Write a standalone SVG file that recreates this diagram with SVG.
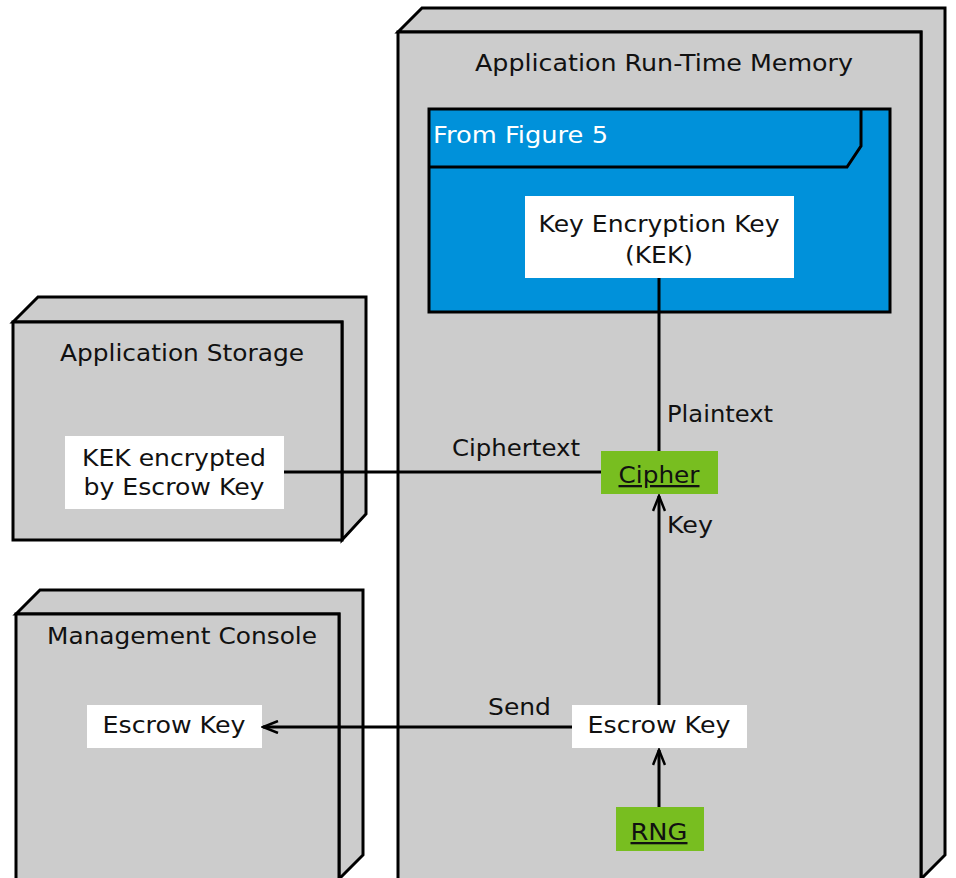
<svg xmlns="http://www.w3.org/2000/svg" width="956" height="878" viewBox="0 0 956 878">
<defs>
<style>
.box{fill:#cccccc;stroke:#000;stroke-width:3;stroke-linejoin:miter}
.wb{fill:#fff}
.gb{fill:#78be20}
.t{font-family:"DejaVu Sans","Liberation Sans",sans-serif;font-size:23px;fill:#111}
.m{text-anchor:middle}
.u{text-decoration:underline}
.ln{fill:none;stroke:#000;stroke-width:3}
</style>
<marker id="arr" viewBox="0 0 18 14" markerWidth="18" markerHeight="14" refX="16" refY="7" orient="auto" markerUnits="userSpaceOnUse">
<path d="M1,1 L16,7 L1,13" fill="none" stroke="#000" stroke-width="2.5"/>
</marker>
</defs>
<rect width="956" height="878" fill="#fff"/>

<g id="runtime-memory">
<path class="box" d="M398,32 L422,8 L945,8 L945,855 L921,879 L921,32 Z"/>
<rect class="box" x="398" y="32" width="523" height="850"/>
<text class="t m" x="664" y="71" textLength="378" lengthAdjust="spacingAndGlyphs">Application Run-Time Memory</text>
</g>

<g id="from-figure-5">
<rect x="429" y="109" width="461" height="203" fill="#0091da" stroke="#000" stroke-width="3"/>
<path class="ln" d="M429,167 L847,167 L861,146 L861,109"/>
<text class="t" x="433" y="143" style="fill:#fff" textLength="175" lengthAdjust="spacingAndGlyphs">From Figure 5</text>
</g>

<g id="kek">
<rect class="wb" x="525" y="196" width="269" height="82"/>
<text class="t m" x="659" y="232" textLength="241" lengthAdjust="spacingAndGlyphs">Key Encryption Key</text>
<text class="t m" x="659" y="263" textLength="68" lengthAdjust="spacingAndGlyphs">(KEK)</text>
</g>

<g id="app-storage">
<path class="box" d="M13,322 L38,297 L366,297 L366,514 L342,540 L342,322 Z"/>
<rect class="box" x="13" y="322" width="329" height="218"/>
<text class="t m" x="182" y="361" textLength="244" lengthAdjust="spacingAndGlyphs">Application Storage</text>
</g>

<g id="kek-encrypted">
<rect class="wb" x="65" y="436" width="219" height="73"/>
<text class="t m" x="174" y="466" textLength="184" lengthAdjust="spacingAndGlyphs">KEK encrypted</text>
<text class="t m" x="174" y="495" textLength="181" lengthAdjust="spacingAndGlyphs">by Escrow Key</text>
</g>

<g id="mgmt-console">
<path class="box" d="M16,614 L40,590 L363,590 L363,855 L339,879 L339,614 Z"/>
<rect class="box" x="16" y="614" width="323" height="268"/>
<text class="t m" x="182" y="644" textLength="270" lengthAdjust="spacingAndGlyphs">Management Console</text>
</g>

<g id="escrow-key-console">
<rect class="wb" x="87" y="705" width="175" height="43"/>
<text class="t m" x="174" y="733" textLength="143" lengthAdjust="spacingAndGlyphs">Escrow Key</text>
</g>

<g id="connectors">
<line class="ln" x1="659" y1="278" x2="659" y2="451"/>
<line class="ln" x1="284" y1="472" x2="601" y2="472"/>
<line class="ln" x1="659" y1="705" x2="659" y2="496" marker-end="url(#arr)"/>
<line class="ln" x1="572" y1="727" x2="263" y2="727" marker-end="url(#arr)"/>
<line class="ln" x1="659" y1="807" x2="659" y2="750" marker-end="url(#arr)"/>
<text class="t" x="667" y="422" textLength="106" lengthAdjust="spacingAndGlyphs">Plaintext</text>
<text class="t" x="452" y="456" textLength="128" lengthAdjust="spacingAndGlyphs">Ciphertext</text>
<text class="t" x="667" y="533" textLength="46" lengthAdjust="spacingAndGlyphs">Key</text>
<text class="t" x="488" y="715" textLength="63" lengthAdjust="spacingAndGlyphs">Send</text>
</g>

<g id="cipher">
<rect class="gb" x="601" y="451" width="117" height="43"/>
<text class="t m u" x="659" y="483" textLength="81" lengthAdjust="spacingAndGlyphs">Cipher</text>
</g>

<g id="escrow-key">
<rect class="wb" x="572" y="705" width="175" height="43"/>
<text class="t m" x="659" y="733" textLength="143" lengthAdjust="spacingAndGlyphs">Escrow Key</text>
</g>

<g id="rng">
<rect class="gb" x="616" y="807" width="88" height="44"/>
<text class="t m u" x="659" y="840" textLength="57" lengthAdjust="spacingAndGlyphs">RNG</text>
</g>
</svg>
